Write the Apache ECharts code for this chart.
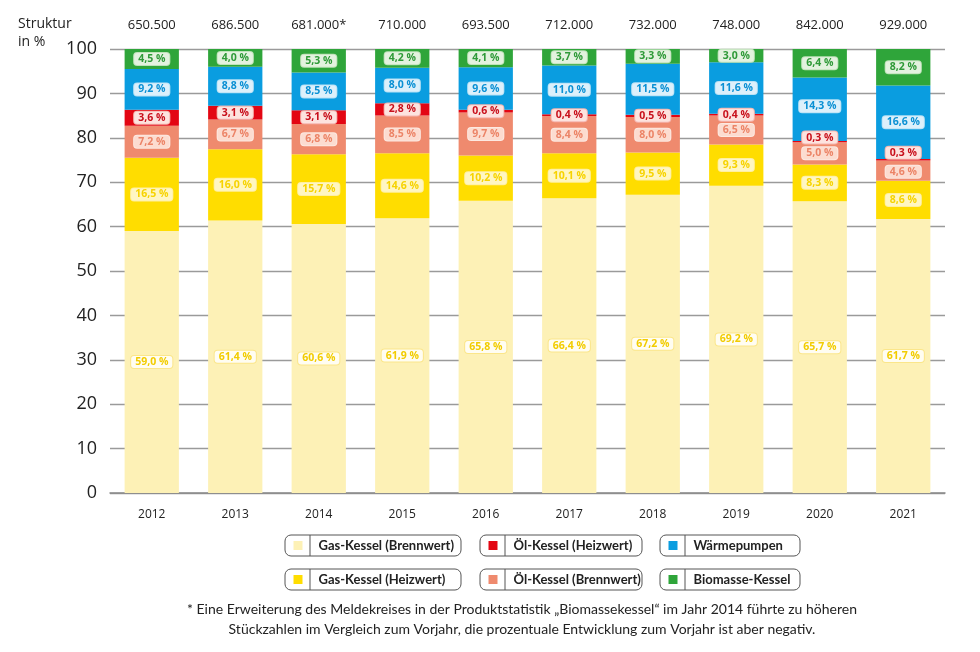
<!DOCTYPE html>
<html>
<head>
<meta charset="utf-8">
<script src="https://cdn.jsdelivr.net/npm/echarts@6/dist/echarts.min.js"></script>
<style>html,body{margin:0;padding:0;background:#fff}#c{width:980px;height:652px}</style>
</head>
<body>
<div id="c"></div>
<script>
var years = ['2012','2013','2014','2015','2016','2017','2018','2019','2020','2021'];
var totals = ['650.500','686.500','681.000*','710.000','693.500','712.000','732.000','748.000','842.000','929.000'];
var yTicks = [0,10,20,30,40,50,60,70,80,90,100];
var gasBrennwert = [59.0, 61.4, 60.6, 61.9, 65.8, 66.4, 67.2, 69.2, 65.7, 61.7];
var gasHeizwert  = [16.5, 16.0, 15.7, 14.6, 10.2, 10.1, 9.5, 9.3, 8.3, 8.6];
var oelBrennwert = [7.2, 6.7, 6.8, 8.5, 9.7, 8.4, 8.0, 6.5, 5.0, 4.6];
var oelHeizwert  = [3.6, 3.1, 3.1, 2.8, 0.6, 0.4, 0.5, 0.4, 0.3, 0.3];
var waermepumpen = [9.2, 8.8, 8.5, 8.0, 9.6, 11.0, 11.5, 11.6, 14.3, 16.6];
var biomasse     = [4.5, 4.0, 5.3, 4.2, 4.1, 3.7, 3.3, 3.0, 6.4, 8.2];

var seriesNames = ['Gas-Kessel (Brennwert)','Gas-Kessel (Heizwert)','Öl-Kessel (Brennwert)','Öl-Kessel (Heizwert)','Wärmepumpen','Biomasse-Kessel'];
var seriesData = [gasBrennwert, gasHeizwert, oelBrennwert, oelHeizwert, waermepumpen, biomasse];

var styles = [
  {fill:'#fdf1b6', text:'#f2cc00', bg:'#fffdf2', border:'#fbe68a'},
  {fill:'#ffdd00', text:'#f7d300', bg:'#fff6c2', border:'#fff0a0'},
  {fill:'#ef8a6e', text:'#ec8467', bg:'#fcdcd0', border:'#fde9e1'},
  {fill:'#e30613', text:'#c8101c', bg:'#fde3df', border:'#f5b5ae'},
  {fill:'#0a9de0', text:'#0a90d4', bg:'#dcf0fb', border:'#b8e2f6'},
  {fill:'#2fa53a', text:'#2f9a38', bg:'#e3f2df', border:'#bfe2b9'}
];
// label nudges (pixels) to avoid overlaps of the thin segments' labels: [series][year]
var labelNudge = {3: {8: -4, 9: -7}, 4: {8: -3}, 2: {9: 1}};

function fmt(v){ return v.toFixed(1).replace('.', ',') + ' %'; }

var series = seriesNames.map(function(name, i){
  var st = styles[i];
  var data = seriesData[i].map(function(v, j){
    var n = labelNudge[i] && labelNudge[i][j];
    return n ? {value: v, label: {offset: [0, n]}} : v;
  });
  return {
    name: name,
    type: 'bar',
    stack: 'total',
    barWidth: '65%',
    data: data,
    itemStyle: {color: st.fill},
    emphasis: {disabled: true},
    label: {
      show: true,
      position: 'inside',
      formatter: function(p){ return fmt(p.value); },
      color: st.text,
      fontFamily: 'Open Sans',
      fontWeight: 'bold',
      fontSize: 10.5,
      lineHeight: 11,
      backgroundColor: st.bg,
      borderColor: st.border,
      borderWidth: 1,
      borderRadius: 3,
      padding: [1, 4, 0, 4]
    }
  };
});

var cols = [{x:285, w:176}, {x:480, w:162}, {x:660, w:140}];
var rows = [535, 569];
var legendOrder = [[0,1],[3,2],[4,5]];
var legends = [];
var graphics = [];
cols.forEach(function(c, ci){
  rows.forEach(function(ry, ri){
    var si = legendOrder[ci][ri];
    legends.push({
      data: [seriesNames[si]],
      left: c.x + 8.5,
      top: ry + 3.5,
      padding: 0,
      itemWidth: 9,
      itemHeight: 9,
      icon: 'rect',
      selectedMode: false,
      textStyle: {fontFamily: 'Lato', fontSize: 13, fontWeight: 'bold', color: '#222', padding: [0,0,0,11], lineHeight: 14}
    });
    graphics.push({type:'rect', shape:{x:c.x, y:ry, width:c.w, height:21, r:6}, style:{fill:'none', stroke:'#555', lineWidth:1}, silent:true});
    graphics.push({type:'line', shape:{x1:c.x+25, y1:ry, x2:c.x+25, y2:ry+21}, style:{stroke:'#555', lineWidth:1}, silent:true});
  });
});

graphics.push({type:'text', left:18, top:15, style:{text:'Struktur\nin %', font:'14px "Open Sans"', fill:'#222', lineHeight:18}});
graphics.push({type:'text', x:522, y:599, style:{text:'* Eine Erweiterung des Meldekreises in der Produktstatistik \u201EBiomassekessel\u201C im Jahr 2014 führte zu höheren\nStückzahlen im Vergleich zum Vorjahr, die prozentuale Entwicklung zum Vorjahr ist aber negativ.', font:'14px Lato', fill:'#222', lineHeight:20, textAlign:'center'}});

var chart = echarts.init(document.getElementById('c'));
chart.setOption({
  animation: false,
  grid: {left: 110, right: 35, top: 49, bottom: 159},
  xAxis: [
    {type:'category', data: years, axisLine:{lineStyle:{color:'#8a8a8a', width:1.5}}, axisTick:{show:false},
     axisLabel:{margin:16, fontFamily:'Open Sans', fontSize:12, color:'#222'}},
    {type:'category', position:'top', data: totals, axisLine:{show:false}, axisTick:{show:false},
     axisLabel:{margin:17, fontFamily:'Open Sans', fontSize:13, color:'#222'}}
  ],
  yAxis: {
    type:'value', min: yTicks[0], max: yTicks[yTicks.length-1], interval: yTicks[1]-yTicks[0],
    axisLine:{show:false}, axisTick:{show:false},
    splitLine:{lineStyle:{color:'#9a9a9a', width:1.3}},
    axisLabel:{margin:13, fontFamily:'Open Sans', fontSize:18, color:'#222'}
  },
  legend: legends,
  graphic: graphics,
  series: series
});
</script>
</body>
</html>
